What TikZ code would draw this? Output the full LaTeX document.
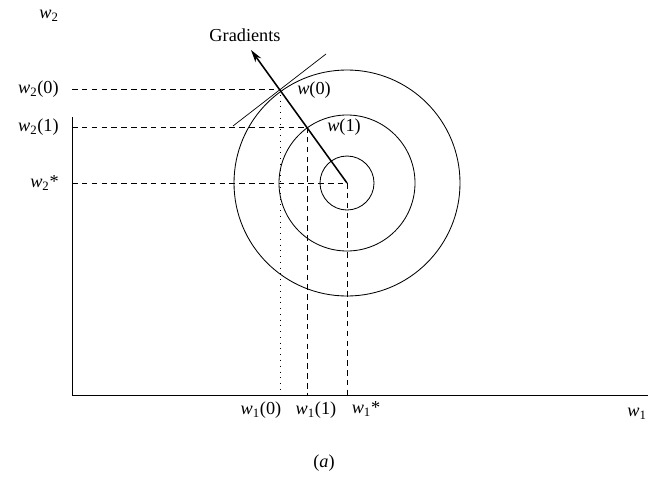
\documentclass[tikz,border=0pt]{standalone}
\usepackage{fontspec}
\setmainfont{Liberation Serif}
\usetikzlibrary{arrows.meta}

\newcommand{\wv}[1]{\textit{w}\textsubscript{#1}}

\begin{document}
\begin{tikzpicture}[x=0.025cm,y=-0.025cm]
    \tikzset{lbl/.style={inner sep=0pt,font=\fontsize{13}{14}\selectfont},
      guide/.style={dash pattern=on 4pt off 3pt,line width=0.5pt},
      dots/.style={dash pattern=on 0.6pt off 3.5pt,line width=0.6pt},
      ring/.style={line width=0.6pt}}
    \useasboundingbox (0,0) rectangle (648,479);
    % points of the picture
    \coordinate (ytop) at (72,117);
    \coordinate (o) at (72,395);
    \coordinate (xend) at (648,395);
    \coordinate (c) at (347,183);
    \coordinate (p0) at (280,89);
    \coordinate (p1) at (307,127);
    \coordinate (tip) at (251,50);
    \coordinate (ta) at (233,126);
    \coordinate (tb) at (326,54);
    \coordinate (y0) at (72,89);
    \coordinate (y1) at (72,127);
    \coordinate (ys) at (72,183);
    \coordinate (x0) at (280,395);
    \coordinate (x1) at (307,395);
    \coordinate (xs) at (347,395);
    % axes
    \draw[line width=0.7pt] (ytop) -- (o) -- (xend);
    % contours
    \draw[ring] (c) circle (27);
    \draw[ring] (c) circle (68);
    \draw[ring] (c) circle (113);
    % tangent
    \draw[line width=0.5pt] (ta) -- (tb);
    % guides
    \draw[guide] (y0) -- (p0);
    \draw[guide] (y1) -- (p1);
    \draw[guide] (ys) -- (c);
    \draw[dots] (p0) -- (x0);
    \draw[guide] (p1) -- (x1);
    \draw[guide] (c) -- (xs);
    % gradient
    \draw[line width=1.1pt,-{Stealth[length=9pt,width=5pt]}] (c) -- (tip);
    % labels
    \node[lbl,anchor=east] (lw2) at (59,16) {\wv{2}};
    \node[lbl,anchor=east] (lw20) at (59,89) {\wv{2}(0)};
    \node[lbl,anchor=east] (lw21) at (59,127) {\wv{2}(1)};
    \node[lbl,anchor=east] (lw2s) at (59,183) {\wv{2}*};
    \node[lbl] (lw10) at (261,410) {\wv{1}(0)};
    \node[lbl] (lw11) at (316,410) {\wv{1}(1)};
    \node[lbl] (lw1s) at (366,409) {\wv{1}*};
    \node[lbl] (lw1) at (637,414) {\wv{1}};
    \node[lbl] (grad) at (245,35) {Gradients};
    \node[lbl] (lp0) at (314,90) {\textit{w}(0)};
    \node[lbl] (lp1) at (344,127) {\textit{w}(1)};
    \node[lbl] (cap) at (324,463) {(\textit{a})};
\end{tikzpicture}
\end{document}
